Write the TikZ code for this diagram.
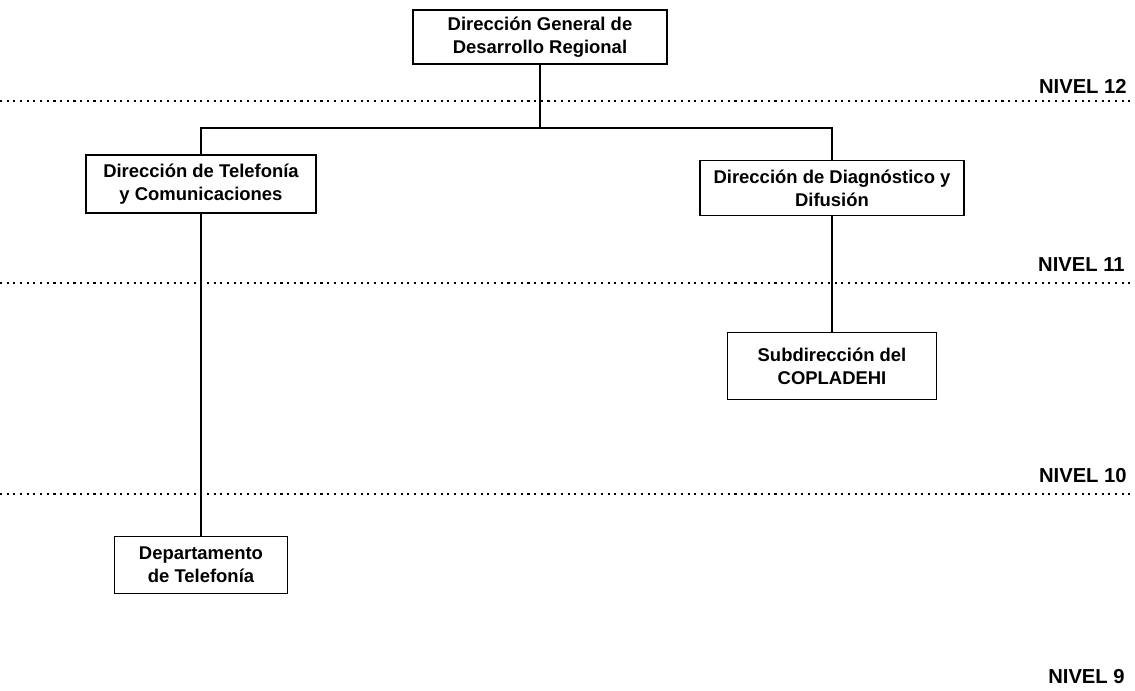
\documentclass[tikz,border=0pt]{standalone}
\usepackage{fontspec}
\setmainfont{Liberation Sans}

\begin{document}
\begin{tikzpicture}[
    x=0.02cm, y=-0.02cm,
    unit/.style={rectangle, draw=black, line width=0.8pt, fill=white, align=center, inner sep=2pt, font=\bfseries\fontsize{10.5}{13}\selectfont},
    level/.style={anchor=east, inner sep=0pt, font=\bfseries\fontsize{11.5}{13}\selectfont},
    levelline/.style={line width=0.7pt, dash pattern=on 1.2pt off 2.6pt},
    link/.style={line width=1.1pt}
]
    \useasboundingbox (0,0) rectangle (1135,690);

    % level separators
    \draw[levelline] (0,101) -- (1135,101);
    \draw[levelline] (0,283) -- (1135,283);
    \draw[levelline] (0,494) -- (1135,494);

    \node[level] (niv12) at (1127,86) {NIVEL 12};
    \node[level] (niv11) at (1125,265) {NIVEL 11};
    \node[level] (niv10) at (1127,476) {NIVEL 10};
    \node[level] (niv9) at (1125,677) {NIVEL 9};

    % units
    \node[unit, minimum width=5.08cm, minimum height=1.08cm] (dirgral) at (540,37) {Dirección General de\\Desarrollo Regional};
    \node[unit, minimum width=4.6cm, minimum height=1.16cm] (dirtel) at (201,184) {Dirección de Telefonía\\y Comunicaciones};
    \node[unit, minimum width=5.28cm, minimum height=1.1cm] (dirdiag) at (832,188) {Dirección de Diagnóstico y\\Difusión};
    \node[unit, minimum width=4.18cm, minimum height=1.34cm] (subcop) at (832,366) {Subdirección del\\COPLADEHI};
    \node[unit, minimum width=3.46cm, minimum height=1.14cm] (deptel) at (201,565) {Departamento\\de Telefonía};

    \coordinate (bus) at (540,128);

    \draw[link] (dirgral) -- (bus);
    \draw[link] (bus) -| (dirtel);
    \draw[link] (bus) -| (dirdiag);
    \draw[link] (dirtel) -- (deptel);
    \draw[link] (dirdiag) -- (subcop);
\end{tikzpicture}
\end{document}
